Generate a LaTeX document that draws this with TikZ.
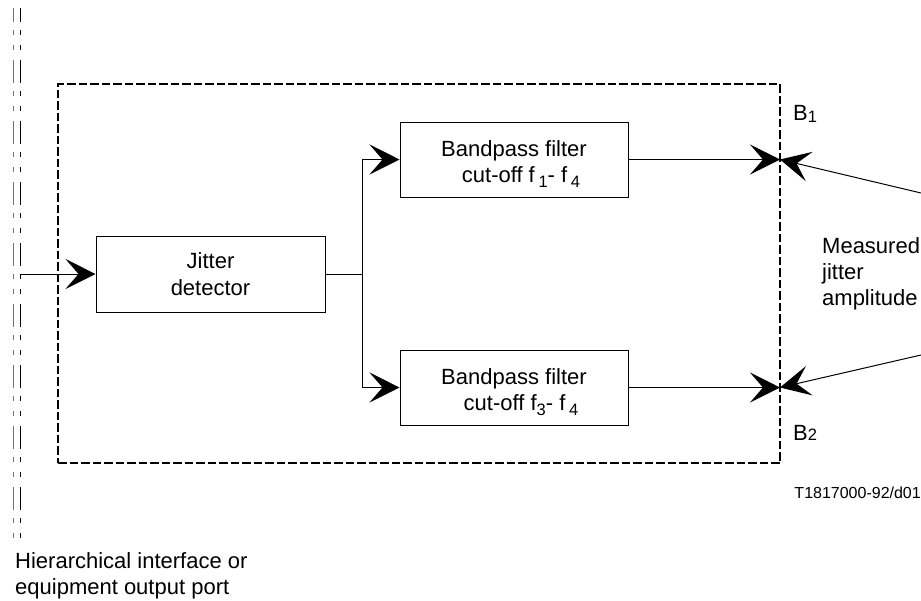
\documentclass[tikz,border=0pt]{standalone}
\usepackage{fontspec}
\setmainfont{Liberation Sans}
\usetikzlibrary{arrows.meta}
\newcommand\sbs[2][-4.5pt]{\raisebox{#1}{\fontsize{16.5}{16.5}\selectfont #2}}
\begin{document}
\begin{tikzpicture}[x=1pt,y=-1pt,
  box/.style={draw, line width=1pt, minimum width=228pt, minimum height=75pt, inner sep=0pt},
  txt/.style={inner sep=0pt, align=center, font=\fontsize{22}{26.5}\selectfont},
  arr/.style={line width=1pt, -{Stealth[length=30pt,width=30pt,inset=13pt]}},
  wire/.style={line width=1pt},
  frame/.style={draw, line width=1.5pt, dash pattern=on 8.5pt off 3pt, minimum width=722pt, minimum height=379pt, inner sep=0pt},
  port/.style={line width=1pt, dash pattern=on 23pt off 8pt on 5pt off 10pt on 5pt off 10pt, dash phase=9pt},
  lbl/.style={inner sep=0pt, font=\fontsize{22}{26}\selectfont, align=left}
]
\useasboundingbox (0,0) rectangle (921,600);
% port lines
\coordinate (p1t) at (13,8);  \coordinate (p1b) at (13,538);
\coordinate (p2t) at (20,8);  \coordinate (p2b) at (20,538);
\draw[port, draw=black!55] (p1t) -- (p1b);
\draw[port] (p2t) -- (p2b);
% frame
\node[frame] (frm) at (419,273.5) {};
% boxes
\node[box, minimum width=229pt, minimum height=76pt] (jd) at (210.5,274) {};
\node[txt] (jdt) at (210.5,274) {Jitter\\detector};
\node[box] (bp1) at (514,159.5) {};
\node[txt] (bp1t) at (514,164) {Bandpass filter\\\hspace*{14pt}cut-off f\,\sbs{1}- f\,\sbs{4}};
\node[box] (bp2) at (514,387.5) {};
\node[txt] (bp2t) at (514,392) {Bandpass filter\\\hspace*{14pt}cut-off f\sbs{3}- f\,\sbs{4}};
% connectors
\coordinate (in) at (20,274);
\draw[arr] (in) -- (jd.west);
\coordinate (br) at (362,274);
\draw[wire] (jd.east) -- (br);
\draw[arr] (br) |- (bp1.west);
\draw[arr] (br) |- (bp2.west);
\coordinate (b1) at (780,159.5);
\coordinate (b2) at (780,387.5);
\draw[arr] (bp1.east) -- (b1);
\draw[arr] (bp2.east) -- (b2);
\coordinate (m1) at (921,193);
\coordinate (m2) at (921,355);
\draw[arr] (m1) -- (b1);
\draw[arr] (m2) -- (b2);
% labels
\node[lbl, anchor=base west] (lb1) at (793,120) {B\sbs[-2pt]{1}};
\node[lbl, anchor=base west] (lb2) at (793,440) {B\sbs[0pt]{2}};
\node[lbl, anchor=north west] (meas) at (822,237) {Measured\\jitter\\amplitude};
\node[inner sep=0pt, anchor=base east, font=\fontsize{16}{16}\selectfont] (fig) at (921,498) {T1817000-92/d01};
\node[lbl, anchor=north west] (port) at (15,552) {Hierarchical interface or\\equipment output port};
\end{tikzpicture}
\end{document}
